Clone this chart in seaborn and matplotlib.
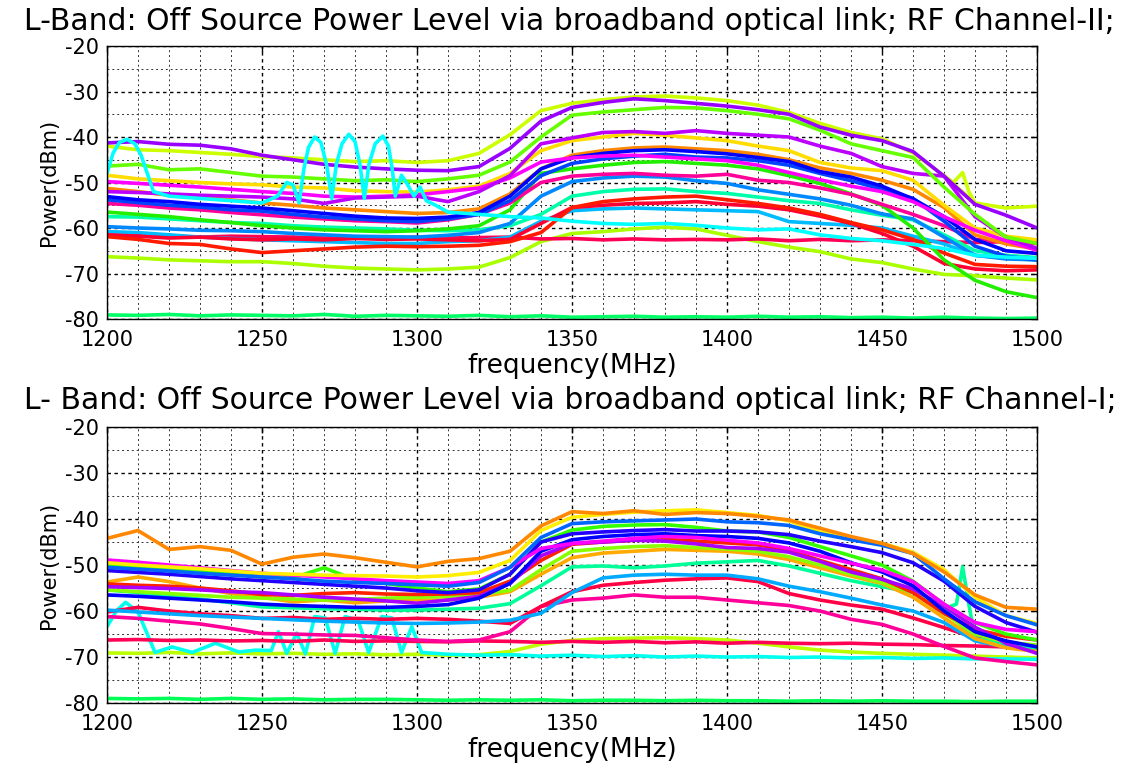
import matplotlib
matplotlib.use("Agg")
import matplotlib.pyplot as plt
from matplotlib.ticker import MultipleLocator
import pandas as pd
import seaborn as sns

# common frequency grid of the spectrum traces (MHz)
freq = list(range(1200, 1501, 10))

# ---------------- RF Channel-II (upper panel), dBm ----------------
ch2_yg = [-42.0, -42.8, -43.0, -43.4, -43.8, -44.3, -44.6, -45.0, -45.4, -45.2,
          -45.6, -45.2, -43.6, -39.5, -34.2, -32.6, -31.8, -31.2, -31.0, -31.4,
          -32.0, -33.0, -34.6, -37.0, -39.0, -40.4, -43.5, -48.5, -54.5, -55.6, -55.2]
ch2_purple = [-41.3, -41.0, -41.6, -41.8, -42.6, -44.0, -45.0, -46.0, -46.6, -47.0,
              -47.3, -47.4, -46.5, -42.5, -36.5, -33.5, -32.4, -31.6, -32.0, -32.6,
              -33.2, -34.0, -35.0, -37.8, -39.6, -40.8, -43.2, -48.6, -54.8, -57.2, -60.0]
ch2_green = [-46.4, -46.0, -47.2, -47.0, -47.8, -48.6, -48.8, -49.2, -49.6, -49.4,
             -49.8, -49.2, -48.4, -45.5, -40.0, -35.2, -34.5, -34.0, -33.5, -33.6,
             -34.2, -35.0, -36.0, -38.5, -41.5, -43.0, -44.5, -51.0, -57.0, -62.0, -63.4]
ch2_violet = [-52.0, -52.2, -52.5, -52.8, -53.0, -53.2, -53.6, -54.6, -53.4, -53.2,
              -53.0, -54.2, -52.0, -48.5, -41.5, -40.2, -39.0, -38.8, -39.2, -38.6,
              -39.2, -39.6, -40.0, -42.0, -43.6, -46.5, -48.0, -48.6, -57.5, -62.0, -64.5]
ch2_yellow = [-48.4, -49.2, -49.6, -50.0, -50.3, -50.5, -51.0, -51.2, -51.8, -52.0,
              -52.1, -51.6, -50.8, -48.0, -43.0, -40.8, -40.0, -39.2, -39.6, -40.2,
              -40.8, -42.0, -43.0, -45.6, -46.8, -47.4, -49.5, -55.0, -60.0, -61.8, -62.6]
ch2_orange = [-51.3, -52.0, -52.8, -53.2, -53.8, -54.5, -55.0, -55.6, -56.0, -56.4,
              -56.8, -56.6, -55.8, -52.5, -47.0, -44.0, -43.0, -42.4, -42.2, -42.6,
              -43.0, -43.8, -45.0, -46.8, -48.0, -49.5, -51.5, -55.5, -61.5, -63.5, -64.6]
ch2_blue = [-53.1, -53.8, -54.2, -54.8, -55.2, -55.6, -56.2, -56.8, -57.4, -57.8,
            -57.9, -57.6, -56.6, -53.0, -47.0, -44.5, -43.6, -43.0, -42.8, -43.2,
            -43.7, -44.5, -45.4, -47.6, -48.8, -50.8, -53.6, -57.5, -62.5, -65.0, -65.6]
ch2_blue2 = [-53.8, -54.4, -55.0, -55.4, -56.0, -56.3, -57.0, -57.6, -58.0, -58.4,
             -58.6, -58.0, -57.0, -54.0, -48.5, -45.8, -44.8, -44.2, -43.8, -44.4,
             -44.6, -45.2, -46.2, -48.0, -49.6, -51.5, -53.5, -58.5, -64.0, -66.2, -67.0]
ch2_magenta = [-49.8, -50.2, -50.6, -51.0, -51.5, -52.0, -52.4, -53.0, -53.2, -53.0,
               -52.7, -52.0, -51.2, -49.0, -45.5, -44.6, -44.2, -44.0, -44.4, -44.8,
               -45.2, -46.2, -47.8, -49.4, -50.8, -52.0, -54.2, -57.5, -60.5, -62.8, -64.9]
ch2_pink = [-54.6, -55.0, -55.6, -56.0, -56.6, -57.1, -57.6, -58.0, -58.4, -58.6,
            -58.9, -58.2, -57.0, -54.5, -50.0, -48.6, -48.2, -48.0, -48.4, -48.6,
            -48.2, -49.5, -50.0, -51.2, -52.6, -54.8, -57.0, -59.5, -62.5, -63.0, -63.4]
ch2_green2 = [-56.5, -57.0, -57.5, -58.2, -58.8, -59.5, -60.0, -60.4, -60.6, -60.8,
              -60.6, -60.2, -59.5, -56.0, -48.0, -47.0, -46.2, -45.6, -45.4, -45.8,
              -46.2, -47.0, -48.5, -50.2, -52.5, -55.0, -60.0, -67.0, -71.5, -74.0, -75.3]
ch2_midblue = [-59.7, -60.0, -60.2, -60.5, -60.6, -60.8, -61.2, -61.5, -61.8, -61.9,
               -62.0, -61.6, -61.0, -59.0, -53.0, -49.8, -49.0, -48.6, -48.8, -49.6,
               -50.2, -51.6, -52.6, -53.6, -55.0, -56.9, -58.0, -62.0, -66.0, -66.8, -67.0]
ch2_aqua = [-57.5, -57.6, -58.0, -58.4, -58.8, -59.0, -59.5, -59.8, -60.0, -60.2,
            -60.5, -60.6, -60.4, -59.5, -57.0, -53.0, -52.0, -51.5, -51.4, -52.0,
            -52.4, -53.2, -54.0, -54.6, -56.0, -57.2, -58.2, -61.5, -65.0, -66.0, -66.5]
ch2_red = [-61.9, -62.5, -63.4, -63.6, -64.6, -65.4, -65.0, -64.6, -64.2, -64.0,
           -64.1, -64.0, -63.8, -63.0, -61.0, -55.5, -54.2, -53.6, -53.2, -53.0,
           -53.8, -54.6, -55.6, -57.0, -58.8, -60.4, -62.5, -65.5, -68.0, -68.4, -68.5]
ch2_red2 = [-61.5, -61.8, -62.2, -62.0, -62.4, -62.6, -62.4, -62.6, -62.3, -62.5,
            -62.4, -62.6, -62.8, -62.5, -59.0, -55.5, -55.0, -54.6, -54.5, -54.2,
            -54.8, -55.2, -56.0, -57.4, -59.0, -61.2, -64.0, -67.8, -69.0, -69.4, -69.2]
ch2_ltblue = [-60.8, -61.0, -61.5, -62.0, -62.3, -62.6, -62.8, -63.0, -63.2, -63.4,
              -63.4, -63.0, -62.8, -62.0, -58.5, -56.2, -55.8, -55.6, -55.8, -56.0,
              -56.2, -56.4, -58.6, -59.0, -59.4, -60.0, -61.8, -63.5, -66.0, -66.6, -67.0]
ch2_pinkred = [-61.5, -61.7, -61.8, -62.0, -61.8, -61.9, -62.0, -62.2, -62.0, -62.3,
               -62.0, -62.2, -62.1, -62.0, -62.4, -62.3, -62.6, -62.4, -62.6, -62.5,
               -62.6, -62.4, -62.8, -62.5, -62.8, -62.6, -62.8, -63.0, -63.2, -63.0, -63.4]
ch2_yg2 = [-66.3, -66.6, -67.0, -67.2, -67.4, -67.4, -67.8, -68.4, -68.8, -69.0,
           -69.2, -69.0, -68.6, -66.5, -63.0, -61.2, -60.8, -60.2, -59.8, -60.2,
           -61.6, -63.0, -64.2, -65.2, -66.8, -67.6, -69.0, -70.2, -70.5, -71.0, -71.4]
ch2_spring = [-79.1, -79.2, -79.0, -79.3, -79.1, -79.2, -79.3, -79.0, -79.4, -79.2,
              -79.3, -79.4, -79.2, -79.5, -79.3, -79.6, -79.5, -79.4, -79.6, -79.5,
              -79.6, -79.4, -79.6, -79.5, -79.7, -79.6, -79.8, -79.6, -79.8, -79.9, -79.8]
# oscillating cyan trace, read on a finer frequency grid
ch2_cyan_freq = [1200, 1202, 1204, 1206.5, 1209, 1211, 1213, 1215, 1220, 1230,
                 1240, 1250, 1255, 1258, 1260, 1262, 1263.5, 1265, 1267, 1269,
                 1270.8, 1272.5, 1274, 1275.8, 1278, 1280, 1281.6, 1283, 1284.5, 1286.5,
                 1289, 1290.8, 1292, 1293, 1295, 1297, 1299, 1301, 1303, 1306,
                 1310, 1320, 1330, 1340, 1350, 1360, 1370, 1380, 1390, 1400,
                 1410, 1420, 1430, 1440, 1450, 1460, 1470, 1480, 1490, 1500]
ch2_cyan = [-48, -43.5, -41.2, -40.5, -41.5, -44, -48, -52, -53, -53.5,
            -54, -54.5, -53, -50, -50.5, -54.5, -47, -42.3, -40, -41.2,
            -46, -53.5, -46, -41.5, -39.4, -41, -46, -53.5, -46, -41.5,
            -39.8, -42, -47, -53, -48.4, -50.5, -53, -51, -54, -55,
            -56.5, -57, -57.5, -57.8, -58.5, -59, -59.2, -59, -59.4, -60,
            -60.4, -60.2, -61.5, -62.3, -62.8, -63.6, -64.5, -66, -66.4, -66.7]
ch2_spike_freq = [1470, 1473, 1476, 1478, 1480]
ch2_spike = [-48.5, -50.0, -47.8, -52.0, -54.5]

# ---------------- RF Channel-I (lower panel), dBm ----------------
ch1_orange = [-44.2, -42.5, -46.6, -46.0, -46.8, -49.8, -48.3, -47.6, -48.4, -49.4,
              -50.4, -49.2, -48.6, -47.0, -41.5, -38.4, -38.8, -38.2, -39.0, -38.6,
              -38.8, -39.4, -40.2, -42.0, -43.8, -45.3, -47.5, -51.5, -56.5, -59.2, -59.6]
ch1_yellow = [-49.5, -50.0, -50.4, -50.8, -51.3, -51.8, -52.0, -52.2, -52.3, -52.4,
              -52.6, -52.3, -51.6, -49.0, -42.5, -39.6, -39.0, -38.5, -38.2, -38.0,
              -38.6, -39.2, -40.4, -42.8, -44.2, -45.3, -47.2, -51.0, -57.0, -61.0, -62.7]
ch1_blue = [-50.5, -50.9, -51.3, -51.8, -52.2, -52.6, -53.0, -53.5, -53.8, -54.0,
            -54.3, -54.6, -53.8, -50.5, -44.0, -41.0, -40.6, -40.4, -40.2, -40.0,
            -40.6, -40.8, -41.4, -43.2, -44.5, -45.7, -47.5, -53.0, -58.0, -61.0, -63.0]
ch1_indigo = [-51.2, -51.6, -52.0, -52.5, -53.0, -53.4, -53.8, -54.2, -54.6, -55.0,
              -55.6, -56.0, -55.4, -52.0, -45.0, -43.2, -42.8, -42.5, -42.3, -42.6,
              -42.6, -42.8, -43.4, -44.8, -46.0, -47.3, -49.5, -53.5, -59.0, -62.5, -64.6]
ch1_magenta = [-48.9, -49.4, -50.0, -50.6, -51.2, -51.8, -52.2, -52.6, -53.0, -53.4,
               -53.7, -54.0, -53.4, -50.5, -46.4, -45.3, -44.8, -44.2, -43.8, -44.0,
               -44.6, -45.2, -46.4, -48.0, -49.6, -51.1, -53.6, -58.5, -62.5, -64.0, -64.5]
ch1_green = [-49.9, -50.4, -51.0, -51.4, -51.8, -52.6, -52.8, -50.6, -53.2, -54.0,
             -55.0, -55.8, -55.2, -52.0, -45.0, -42.4, -41.6, -41.3, -41.2, -41.8,
             -42.6, -42.8, -44.0, -46.0, -48.0, -50.0, -53.5, -58.5, -62.5, -65.0, -66.3]
ch1_purple = [-54.7, -54.9, -55.1, -55.4, -55.8, -56.0, -56.5, -57.0, -57.4, -57.8,
              -58.3, -57.6, -56.8, -54.0, -48.0, -45.3, -45.0, -44.6, -44.8, -45.4,
              -46.2, -46.4, -47.2, -49.2, -51.5, -53.1, -55.2, -59.0, -63.5, -67.0, -69.2]
ch1_red = [-54.1, -54.4, -54.6, -55.0, -55.6, -56.4, -56.6, -56.2, -56.0, -56.3,
           -56.4, -56.3, -56.0, -53.5, -49.0, -45.5, -45.0, -44.6, -44.4, -44.8,
           -45.2, -45.6, -46.8, -49.0, -51.0, -53.0, -56.0, -60.5, -64.0, -65.5, -66.3]
ch1_lime = [-55.4, -55.8, -56.2, -56.6, -57.0, -57.2, -57.4, -57.6, -57.5, -57.2,
            -57.0, -56.8, -56.4, -55.5, -51.0, -47.0, -46.4, -46.0, -45.8, -46.2,
            -46.5, -47.0, -48.2, -50.0, -52.0, -53.8, -56.0, -60.5, -65.0, -66.8, -67.4]
ch1_amber = [-53.7, -52.6, -53.6, -55.0, -56.2, -57.0, -58.0, -57.6, -58.2, -57.8,
             -57.6, -57.6, -57.0, -55.8, -52.0, -48.4, -47.4, -47.0, -46.6, -46.8,
             -47.0, -47.6, -48.8, -50.6, -52.4, -54.0, -57.0, -61.5, -66.0, -68.0, -68.8]
ch1_blue3 = [-56.5, -56.8, -57.2, -57.6, -58.0, -58.5, -58.8, -59.0, -59.2, -59.2,
             -59.0, -58.6, -57.2, -54.0, -47.0, -44.5, -43.8, -43.4, -43.2, -43.6,
             -43.8, -44.2, -45.2, -47.0, -49.5, -51.5, -54.5, -60.0, -64.5, -66.5, -67.8]
ch1_aqua = [-55.4, -56.0, -56.8, -57.4, -58.2, -59.1, -59.3, -59.5, -59.6, -59.8,
            -59.8, -59.6, -59.4, -58.4, -54.5, -50.4, -50.2, -50.6, -50.2, -49.6,
            -49.3, -49.0, -50.2, -51.8, -53.4, -54.7, -56.0, -59.5, -66.0, -67.0, -68.0]
ch1_sky = [-59.8, -60.2, -60.6, -61.0, -61.3, -61.6, -61.9, -62.2, -62.4, -62.6,
           -62.7, -62.6, -62.4, -62.0, -60.5, -56.0, -52.8, -52.2, -52.0, -52.2,
           -52.2, -53.0, -54.6, -55.8, -57.2, -58.7, -60.0, -62.5, -66.5, -67.8, -68.4]
ch1_redpink = [-60.2, -59.2, -60.0, -60.6, -61.0, -61.6, -61.4, -61.8, -61.6, -61.8,
               -61.6, -61.8, -62.2, -62.7, -59.0, -55.8, -54.4, -53.8, -53.3, -53.0,
               -52.8, -53.6, -56.2, -57.6, -58.7, -59.6, -61.5, -63.6, -65.8, -67.2, -68.0]
ch1_pink = [-61.2, -61.6, -62.2, -62.8, -63.8, -64.9, -65.0, -65.2, -65.3, -65.8,
            -66.3, -66.6, -66.3, -64.5, -59.0, -57.6, -57.2, -56.5, -57.0, -57.0,
            -57.6, -58.2, -58.8, -60.0, -61.8, -62.9, -65.0, -67.7, -70.2, -71.0, -71.7]
ch1_pinkred = [-66.3, -66.2, -66.4, -66.3, -66.5, -66.4, -66.6, -66.3, -66.6, -66.5,
               -66.6, -66.7, -66.5, -66.6, -66.8, -66.6, -66.8, -66.6, -66.9, -66.7,
               -67.0, -66.8, -67.0, -67.1, -67.0, -67.2, -67.3, -67.5, -67.6, -67.8, -67.8]
ch1_yg2 = [-69.1, -69.2, -69.0, -69.3, -69.1, -69.3, -69.2, -69.4, -69.3, -69.5,
           -69.4, -69.6, -69.5, -68.8, -67.2, -66.4, -66.0, -65.9, -65.8, -66.0,
           -66.3, -67.0, -67.8, -68.5, -68.9, -69.2, -69.4, -69.6, -69.8, -70.0, -70.2]
ch1_spring = [-79.0, -79.1, -79.0, -79.2, -79.0, -79.2, -79.1, -79.3, -79.2, -79.2,
              -79.3, -79.4, -79.3, -79.4, -79.3, -79.5, -79.4, -79.4, -79.5, -79.4,
              -79.5, -79.5, -79.6, -79.5, -79.6, -79.5, -79.6, -79.6, -79.7, -79.6, -79.6]
ch1_cyan_freq = [1200, 1203, 1206, 1210, 1215.5, 1221, 1227.5, 1235, 1242.5, 1248,
                 1253, 1255.3, 1258, 1261.2, 1264, 1267, 1270.4, 1273.6, 1276.8, 1281,
                 1284.4, 1288.6, 1291.9, 1295, 1298.3, 1301.5,
                 1310, 1320, 1330, 1340, 1350, 1360, 1370, 1380, 1390, 1400,
                 1410, 1420, 1430, 1440, 1450, 1460, 1470, 1480, 1490, 1500]
ch1_cyan = [-63.4, -60, -58.1, -60.2, -69, -67.8, -69, -67, -68.9, -68.5,
            -68.6, -64.5, -69.2, -64.8, -69.3, -61.2, -61.5, -69.2, -61.2, -62,
            -69, -61.2, -61.5, -69, -63.4, -69,
            -69.4, -69.6, -69.5, -69.8, -69.6, -69.9, -69.7, -70, -69.8, -70,
            -69.9, -70.1, -70, -70.2, -70.1, -70.3, -70.2, -70.4, -70.4, -70.5]
ch1_spike_freq = [1470, 1474, 1476, 1478, 1480]
ch1_spike = [-59.5, -58.5, -50.4, -58.5, -66.0]

# (name, colour, x, y) in drawing order
ch2_traces = [
    ("spring", "#00ff66", freq, ch2_spring), ("yg2", "#aaff00", freq, ch2_yg2),
    ("pinkred", "#ff0055", freq, ch2_pinkred), ("ltblue", "#00bbff", freq, ch2_ltblue),
    ("red2", "#ff0033", freq, ch2_red2), ("red", "#ff1a00", freq, ch2_red),
    ("aqua", "#00ffaa", freq, ch2_aqua), ("midblue", "#0088ff", freq, ch2_midblue),
    ("green2", "#22ee00", freq, ch2_green2), ("pink", "#ff0099", freq, ch2_pink),
    ("orange", "#ff8800", freq, ch2_orange), ("blue2", "#0044ff", freq, ch2_blue2),
    ("blue", "#0000ff", freq, ch2_blue), ("yellow", "#ffdd00", freq, ch2_yellow),
    ("magenta", "#ff00ff", freq, ch2_magenta), ("violet", "#bb00ff", freq, ch2_violet),
    ("green", "#66ff00", freq, ch2_green), ("yg", "#ccff00", freq, ch2_yg),
    ("yg spike", "#ccff00", ch2_spike_freq, ch2_spike),
    ("purple", "#9900ff", freq, ch2_purple), ("cyan", "#00ffff", ch2_cyan_freq, ch2_cyan),
]
ch1_traces = [
    ("spring", "#00ff55", freq, ch1_spring), ("yg2", "#bbff00", freq, ch1_yg2),
    ("cyan", "#00ffee", ch1_cyan_freq, ch1_cyan), ("pinkred", "#ff0055", freq, ch1_pinkred),
    ("pink", "#ff0099", freq, ch1_pink), ("redpink", "#ff0044", freq, ch1_redpink),
    ("sky", "#00aaff", freq, ch1_sky), ("aqua", "#00ff99", freq, ch1_aqua),
    ("aqua spike", "#00ff99", ch1_spike_freq, ch1_spike),
    ("amber", "#ffaa00", freq, ch1_amber), ("lime", "#88ff00", freq, ch1_lime),
    ("red", "#ff2200", freq, ch1_red), ("purple", "#aa00ff", freq, ch1_purple),
    ("blue3", "#0000ff", freq, ch1_blue3), ("green", "#33ff00", freq, ch1_green),
    ("indigo", "#2200ff", freq, ch1_indigo), ("magenta", "#ff00ff", freq, ch1_magenta),
    ("yellow", "#ffee00", freq, ch1_yellow), ("blue", "#0066ff", freq, ch1_blue),
    ("orange", "#ff8800", freq, ch1_orange),
]

sns.set_theme(style="white")
plt.rcParams["font.family"] = ["DejaVu Sans"]
plt.rcParams["axes.unicode_minus"] = False
plt.rcParams["text.color"] = "black"
plt.rcParams["axes.labelcolor"] = "black"


def plot_panel(ax, traces):
    parts = [pd.DataFrame({"freq": f, "dbm": v, "trace": name}) for name, col, f, v in traces]
    df = pd.concat(parts, ignore_index=True)
    pal = {name: col for name, col, f, v in traces}
    sns.lineplot(data=df, x="freq", y="dbm", hue="trace", hue_order=[t[0] for t in traces],
                 palette=pal, estimator=None, sort=False, legend=False, lw=2.6, ax=ax)

    ax.set_xlim(1200, 1500)
    ax.set_ylim(-80, -20)
    ax.xaxis.set_major_locator(MultipleLocator(50))
    ax.xaxis.set_minor_locator(MultipleLocator(10))
    ax.yaxis.set_major_locator(MultipleLocator(10))
    ax.yaxis.set_minor_locator(MultipleLocator(5))
    ax.set_axisbelow(True)
    ax.grid(which="major", color="black", ls=(0, (2.5, 2.5)), lw=1.0)
    ax.grid(which="minor", color="0.2", ls=(0, (2, 3)), lw=0.7)
    ax.tick_params(which="major", direction="in", top=True, right=True, length=4,
                   width=1, colors="black", labelcolor="black", labelsize=15)
    ax.tick_params(axis="y", which="major", pad=6)
    ax.tick_params(axis="x", which="major", pad=8)
    ax.tick_params(which="minor", length=0)
    for sp in ax.spines.values():
        sp.set_color("black")
        sp.set_linewidth(1.0)
    ax.set_xlabel("frequency(MHz)", fontsize=19, labelpad=2, color="black")
    ax.set_ylabel("Power(dBm)", fontsize=15, labelpad=4, color="black")


fig = plt.figure(figsize=(11.25, 7.63), dpi=100)
ax1 = fig.add_axes([0.0951, 0.5819, 0.8267, 0.3578])
ax2 = fig.add_axes([0.0951, 0.0786, 0.8267, 0.3617])
plot_panel(ax1, ch2_traces)
plot_panel(ax2, ch1_traces)

fig.text(24 / 1125, 1 - 30 / 763,
         "L-Band: Off Source Power Level via broadband optical link; RF Channel-II;",
         ha="left", va="baseline", fontsize=21.5, color="black")
fig.text(24 / 1125, 1 - 409 / 763,
         "L- Band: Off Source Power Level via broadband optical link; RF Channel-I;",
         ha="left", va="baseline", fontsize=21.5, color="black")

fig.savefig("out.png", dpi=100, facecolor="white")
